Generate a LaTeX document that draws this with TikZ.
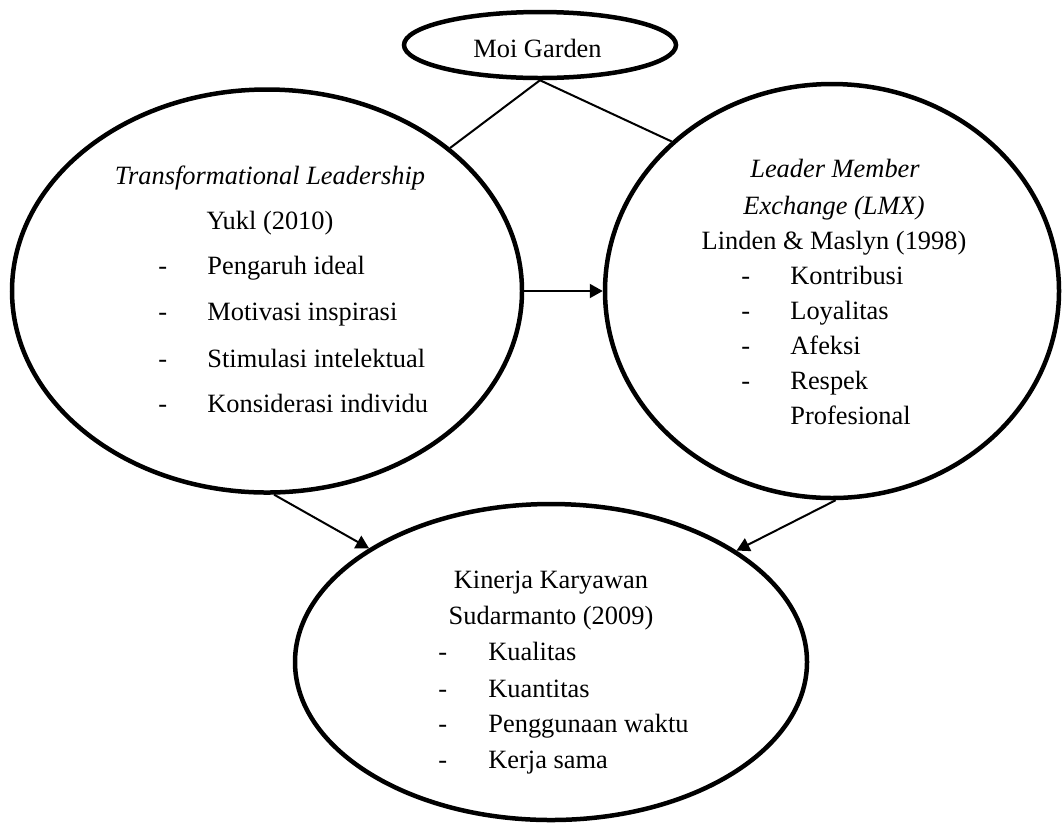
\documentclass[tikz,border=0pt]{standalone}
\usepackage{fontspec}
\setmainfont{Liberation Serif}
\usetikzlibrary{shapes.geometric,arrows.meta}
\begin{document}
\begin{tikzpicture}[x=0.5pt,y=-0.5pt,
  oval/.style={ellipse, draw, line width=2.25pt, inner sep=0pt},
  conn/.style={line width=1pt},
  arr/.style={line width=1pt, -{Triangle[length=6.5pt,width=7pt]}},
  txt/.style={inner sep=0pt, anchor=base, font=\fontsize{13.2pt}{16pt}\selectfont},
  itm/.style={txt, anchor=base west}]
\useasboundingbox (0,0) rectangle (1063,826);
\node[oval, minimum width=136pt, minimum height=33pt] (M) at (540,45) {};
\node[oval, minimum width=255pt, minimum height=201.5pt] (L) at (267,291) {};
\node[oval, minimum width=227pt, minimum height=207pt] (R) at (832,291) {};
\node[oval, minimum width=256pt, minimum height=158pt] (B) at (551,662) {};
% top
\node[txt] (m1) at (537.5,57) {Moi Garden};
% left
\node[txt] (l1) at (270,184) {\itshape Transformational Leadership};
\node[txt] (l2) at (270,229) {Yukl (2010)};
\node[itm] (ld1) at (158,274) {-};
\node[itm] (ld2) at (158,320) {-};
\node[itm] (ld3) at (158,367) {-};
\node[itm] (ld4) at (158,412) {-};
\node[itm] (li1) at (207,274) {Pengaruh ideal};
\node[itm] (li2) at (207,320) {Motivasi inspirasi};
\node[itm] (li3) at (207,367) {Stimulasi intelektual};
\node[itm] (li4) at (207,412) {Konsiderasi individu};
% right
\node[txt] (r1) at (835,177) {\itshape Leader Member};
\node[txt] (r2) at (834,214) {\itshape Exchange (LMX)};
\node[txt] (r3) at (834,249) {Linden \& Maslyn (1998)};
\node[itm] (rd1) at (741,284) {-};
\node[itm] (rd2) at (741,319) {-};
\node[itm] (rd3) at (741,354) {-};
\node[itm] (rd4) at (741,389) {-};
\node[itm] (ri1) at (790,284) {Kontribusi};
\node[itm] (ri2) at (790,319) {Loyalitas};
\node[itm] (ri3) at (790,354) {Afeksi};
\node[itm] (ri4) at (790,389) {Respek};
\node[itm] (ri5) at (790,424) {Profesional};
% bottom
\node[txt] (b1) at (551,588) {Kinerja Karyawan};
\node[txt] (b2) at (551,624) {Sudarmanto (2009)};
\node[itm] (bd1) at (438,660) {-};
\node[itm] (bd2) at (438,697) {-};
\node[itm] (bd3) at (438,732) {-};
\node[itm] (bd4) at (438,768) {-};
\node[itm] (bi1) at (488,660) {Kualitas};
\node[itm] (bi2) at (488,697) {Kuantitas};
\node[itm] (bi3) at (488,732) {Penggunaan waktu};
\node[itm] (bi4) at (488,768) {Kerja sama};
% connectors
\draw[conn] (M.south) -- (L.38);
\draw[conn] (M.south) -- (R.137);
\draw[arr] (L.east) -- (R.west);
\draw[arr] (L.-88.5) -- (B.148.3);
\draw[arr] (R.-89) -- (B.31.4);
\end{tikzpicture}
\end{document}
